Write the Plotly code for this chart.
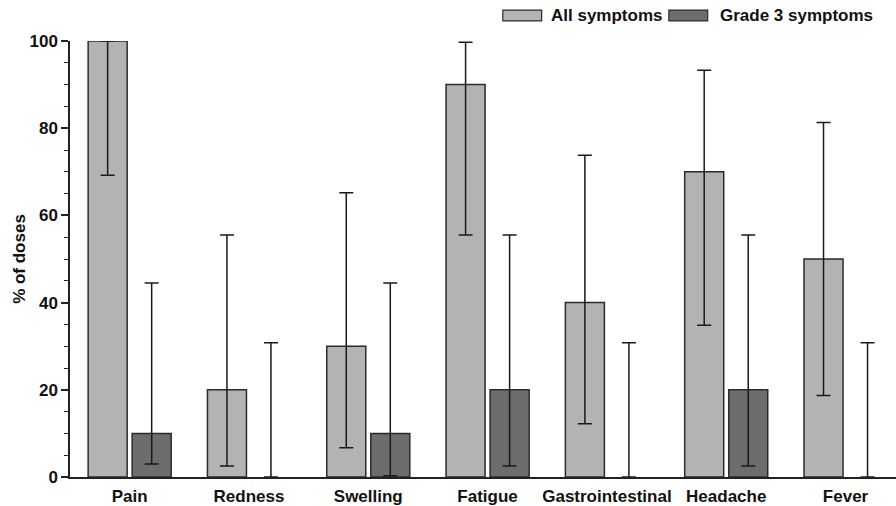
import plotly.graph_objects as go

categories = ["Pain", "Redness", "Swelling", "Fatigue", "Gastrointestinal", "Headache", "Fever"]
all_vals = [100, 20, 30, 90, 40, 70, 50]
all_upper = [100, 55.5, 65.2, 99.7, 73.8, 93.3, 81.3]
all_lower = [69.2, 2.5, 6.7, 55.5, 12.2, 34.8, 18.7]
g3_vals = [10, 0, 10, 20, 0, 20, 0]
g3_upper = [44.5, 30.8, 44.5, 55.5, 30.8, 55.5, 30.8]
g3_lower = [3.0, 0, 0.3, 2.5, 0, 2.5, 0]
series_names = ["All symptoms", "Grade 3 symptoms"]
y_ticks = [0, 20, 40, 60, 80, 100]

LIGHT = "#b3b3b3"
DARK = "#6d6d6d"
EDGE = "#2b2b2b"
FONT = "Liberation Sans"
FS = 17

def err(vals, up, lo):
    return dict(
        type="data", symmetric=False,
        array=[u - v for u, v in zip(up, vals)],
        arrayminus=[v - l for v, l in zip(vals, lo)],
        color="#1a1a1a", thickness=1.5, width=7,
    )

def edge_widths(vals):
    return [1.5 if v > 0 else 0 for v in vals]

fig = go.Figure()
fig.add_trace(go.Bar(
    x=categories, y=all_vals, name=series_names[0],
    marker=dict(color=LIGHT, line=dict(color=EDGE, width=edge_widths(all_vals))),
    width=0.327, offset=-0.348,
    error_y=err(all_vals, all_upper, all_lower), showlegend=False,
))
fig.add_trace(go.Bar(
    x=categories, y=g3_vals, name=series_names[1],
    marker=dict(color=DARK, line=dict(color=EDGE, width=edge_widths(g3_vals))),
    width=0.327, offset=0.021,
    error_y=err(g3_vals, g3_upper, g3_lower), showlegend=False,
))

# custom legend (wide swatches like the reference)
shapes = []
annotations = []
for (x0, x1, tx, color, name) in [(0.524, 0.571, 0.580, LIGHT, series_names[0]),
                                  (0.725, 0.772, 0.785, DARK, series_names[1])]:
    shapes.append(dict(type="rect", xref="paper", yref="paper", x0=x0, x1=x1,
                       y0=1.046, y1=1.071, fillcolor=color,
                       line=dict(color=EDGE, width=1.2)))
    annotations.append(dict(xref="paper", yref="paper", x=tx, y=1.058, text="<b>" + name + "</b>",
                            showarrow=False, xanchor="left", yanchor="middle",
                            font=dict(family=FONT, size=FS, color="#111")))

fig.update_layout(
    width=896, height=506,
    margin=dict(l=70, r=0, t=41, b=29),
    plot_bgcolor="white", paper_bgcolor="white",
    barmode="overlay",
    font=dict(family=FONT, size=FS, color="#111"),
    shapes=shapes, annotations=annotations,
    xaxis=dict(
        type="category", range=[-0.5, 6.423],
        showline=True, linecolor="#222", linewidth=1.5,
        ticks="", showgrid=False, zeroline=False,
        tickfont=dict(family=FONT, size=FS, color="#111", weight="bold"),
        ticklabelstandoff=3,
    ),
    yaxis=dict(
        range=[0, 100], tickvals=y_ticks,
        showline=True, linecolor="#222", linewidth=1.5,
        ticks="outside", ticklen=7, tickwidth=1.5, tickcolor="#222",
        minor=dict(dtick=5, ticks="outside", ticklen=4, tickwidth=1.2, tickcolor="#222"),
        showgrid=False, zeroline=False,
        tickfont=dict(family=FONT, size=FS, color="#111", weight="bold"),
        title=dict(text="% of doses", standoff=0,
                   font=dict(family=FONT, size=FS, color="#111", weight="bold")),
    ),
)

fig.write_html("out.html", config={"displayModeBar": False})

# remove the default page margin so the figure fills the window exactly
with open("out.html", "r", encoding="utf-8") as f:
    html = f.read()
html = html.replace("<head>", "<head><style>html,body{margin:0;padding:0;overflow:hidden;}</style>", 1)
with open("out.html", "w", encoding="utf-8") as f:
    f.write(html)
